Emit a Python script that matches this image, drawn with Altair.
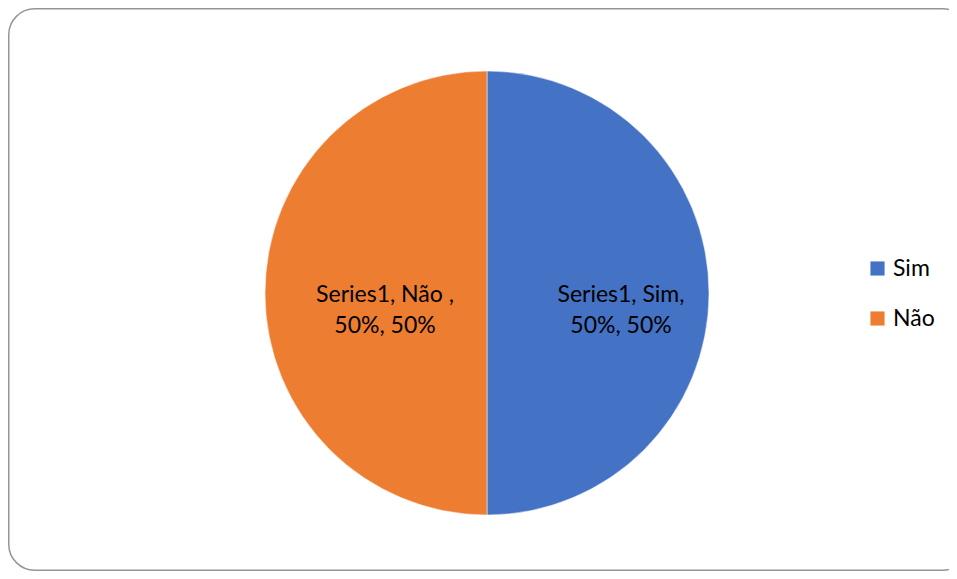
import altair as alt
import pandas as pd

categories = ["Sim", "Não"]
values = [50, 50]
label_lines = [["Series1, Sim,", "50%, 50%"], ["Series1, Não ,", "50%, 50%"]]
colors = ["#4472C4", "#ED7D31"]

df = pd.DataFrame({
    "cat": categories,
    "val": values,
    "order": list(range(len(categories))),
    "label": label_lines,
})

W, H = 941, 563
CX, CY, R = 479, 285, 222
FONT = "Lato"
FS = 23

color_scale = alt.Scale(domain=categories, range=colors)

border = alt.Chart(pd.DataFrame({"k": [0]})).mark_rect(
    fill="white", stroke="#969696", strokeWidth=1.5, cornerRadius=26
).encode(
    x=alt.value(0.75), x2=alt.value(961), y=alt.value(0.75), y2=alt.value(562.25)
)

base = alt.Chart(df).encode(
    theta=alt.Theta("val:Q", stack=True),
    order=alt.Order("order:Q"),
)

pie = base.mark_arc(outerRadius=R, stroke="white", strokeWidth=0.5).encode(
    x=alt.value(CX), y=alt.value(CY),
    color=alt.Color(
        "cat:N", scale=color_scale, sort=categories,
        legend=alt.Legend(
            title=None, orient="none", legendX=858, legendY=249,
            symbolType="square", symbolSize=200, symbolStrokeWidth=0,
            labelFont=FONT, labelFontSize=FS, labelColor="#000000",
            rowPadding=26, labelOffset=4,
        ),
    ),
)

def label_layer(cat, radius):
    return base.mark_text(
        radius=radius, font=FONT, fontSize=FS, color="#000000",
        align="center", baseline="middle", dy=2, lineHeight=31,
    ).encode(
        x=alt.value(CX), y=alt.value(CY), text="label",
        opacity=alt.condition(alt.datum.cat == cat, alt.value(1), alt.value(0)),
    )

chart = alt.layer(
    border, pie,
    label_layer("Sim", 134),
    label_layer("Não", 102),
).properties(
    width=W, height=H, padding=0, autosize=alt.AutoSizeParams(type="none")
).configure_view(stroke=None)

chart.save("out.html", embed_options={"renderer": "svg", "actions": False})
